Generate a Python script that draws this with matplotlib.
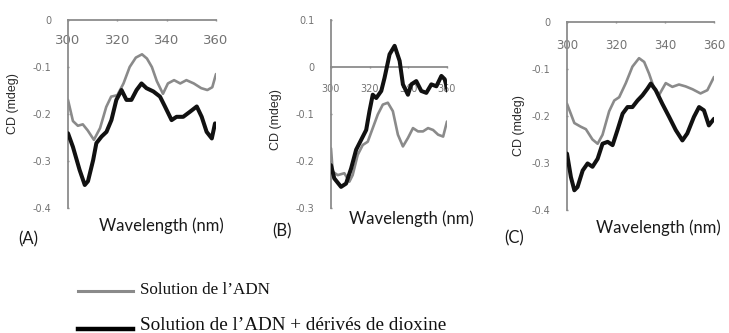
import matplotlib
matplotlib.use("Agg")
import matplotlib.pyplot as plt
from matplotlib.lines import Line2D

plt.rcParams["axes.unicode_minus"] = False

W, H = 729, 333

# ---- data (wavelength in nm, CD in mdeg) ----
wl_a_dna = [300, 302, 304, 306, 308, 310.5, 313, 315.5, 317.5, 320, 322.5, 325, 327.5,
            330, 332, 334, 336, 338.5, 340.5, 343, 345.5, 348, 351, 354, 356.5, 358.5, 360]
cd_a_dna = [-0.17, -0.215, -0.225, -0.222, -0.235, -0.255, -0.23, -0.185, -0.163, -0.16,
            -0.135, -0.1, -0.08, -0.073, -0.082, -0.1, -0.13, -0.157, -0.135, -0.128,
            -0.135, -0.128, -0.135, -0.145, -0.149, -0.143, -0.115]
wl_a_diox = [300, 302, 304.7, 306.8, 308.1, 310.2, 311.5, 313.6, 315.6, 317.6, 319.6,
             321.7, 323.7, 325.7, 327.8, 329.8, 331.8, 334.6, 337.3, 339.3, 342, 344,
             346.7, 349.5, 352.2, 354.2, 356.2, 358.3, 359.6]
cd_a_diox = [-0.241, -0.27, -0.319, -0.351, -0.343, -0.298, -0.262, -0.248, -0.238,
             -0.213, -0.17, -0.149, -0.17, -0.17, -0.149, -0.135, -0.145, -0.152, -0.163,
             -0.184, -0.213, -0.206, -0.206, -0.195, -0.184, -0.206, -0.238, -0.252, -0.22]

wl_b_dna = [300, 300.9, 303.5, 306.9, 309.5, 311.2, 313.8, 316.4, 319.0, 321.6, 324.2,
            326.8, 329.4, 332.0, 334.6, 337.2, 339.8, 342.4, 345.0, 347.6, 350.2, 352.8,
            355.4, 358.0, 360]
cd_b_dna = [-0.173, -0.223, -0.23, -0.226, -0.244, -0.23, -0.187, -0.166, -0.159, -0.13,
            -0.101, -0.08, -0.076, -0.094, -0.144, -0.169, -0.151, -0.13, -0.137, -0.137,
            -0.13, -0.134, -0.144, -0.148, -0.116]
wl_b_diox = [300, 301.7, 305.2, 307.8, 310.4, 313.0, 315.6, 318.2, 319.9, 321.6, 323.4,
             326.0, 327.7, 330.3, 332.9, 335.5, 337.2, 339.8, 341.5, 344.1, 346.7, 349.3,
             351.9, 354.5, 357.1, 358.8, 360.4]
cd_b_diox = [-0.209, -0.237, -0.255, -0.248, -0.216, -0.176, -0.155, -0.134, -0.094,
             -0.059, -0.066, -0.051, -0.023, 0.027, 0.045, 0.013, -0.037, -0.059, -0.037,
             -0.03, -0.051, -0.055, -0.037, -0.041, -0.019, -0.026, -0.051]

wl_c_dna = [300, 303, 305.7, 307.7, 310.4, 312.5, 314.5, 317.2, 319.3, 321.3, 324, 326.7,
            329.4, 331.5, 333.5, 335.5, 337.6, 340.3, 343, 345.7, 348.4, 351.2, 354.5,
            357.3, 360]
cd_c_dna = [-0.174, -0.215, -0.223, -0.228, -0.25, -0.259, -0.24, -0.19, -0.167, -0.16,
            -0.13, -0.095, -0.077, -0.085, -0.11, -0.14, -0.155, -0.13, -0.138, -0.133,
            -0.137, -0.143, -0.152, -0.145, -0.117]
wl_c_diox = [300, 301.6, 303, 304.3, 306.4, 308.4, 310.4, 312.5, 314.5, 316.6, 318.6,
             320.6, 322.7, 324.7, 326.7, 328.8, 330.8, 332.8, 334.2, 336.2, 338.9, 341.7,
             344.4, 347.1, 349.1, 351.8, 353.9, 355.9, 357.9, 360]
cd_c_diox = [-0.28, -0.33, -0.358, -0.351, -0.316, -0.301, -0.308, -0.291, -0.259, -0.255,
             -0.262, -0.23, -0.195, -0.181, -0.181, -0.167, -0.156, -0.142, -0.131, -0.145,
             -0.174, -0.202, -0.23, -0.252, -0.237, -0.202, -0.181, -0.188, -0.22, -0.206]

x_ticks = [300, 320, 340, 360]
y_ticks_ac = [0, -0.1, -0.2, -0.3, -0.4]
y_ticks_b = [0.1, 0, -0.1, -0.2, -0.3]

GRAY = "#8a8a8a"
BLACK = "#111111"
AXC = "#8c8c8c"
TICKC = "#737373"

fig = plt.figure(figsize=(W / 100, H / 100), dpi=100)


def make_axes(x0, x1, ytop, ybot, ylim, yticks, xfs, xpad):
    ax = fig.add_axes([x0 / W, 1 - ybot / H, (x1 - x0) / W, (ybot - ytop) / H])
    ax.set_xlim(300, 360)
    ax.set_ylim(*ylim)
    for s in ("right", "top"):
        ax.spines[s].set_visible(False)
    ax.spines["bottom"].set_position(("data", 0))
    for s in ("left", "bottom"):
        ax.spines[s].set_color(AXC)
        ax.spines[s].set_linewidth(1.3)
    ax.set_xticks(x_ticks)
    ax.set_yticks(yticks)
    ax.set_yticklabels(["0" if v == 0 else f"{v:.1f}" for v in yticks])
    ax.tick_params(axis="x", length=2, width=1, color=AXC, direction="inout",
                   labelsize=xfs, labelcolor=TICKC, pad=xpad)
    ax.tick_params(axis="y", length=2, width=1, color=AXC, direction="inout",
                   labelsize=7, labelcolor=TICKC, pad=11)
    ax.patch.set_alpha(0)
    return ax


def draw(ax, wl1, cd1, wl2, cd2):
    ax.plot(wl1, cd1, color=GRAY, lw=1.9, zorder=3, solid_joinstyle="round",
            solid_capstyle="round")
    ax.plot(wl2, cd2, color=BLACK, lw=2.9, zorder=4, solid_joinstyle="round",
            solid_capstyle="round")


ax_a = make_axes(68, 216, 20, 208, (-0.4, 0), y_ticks_ac, 9.5, 9)
draw(ax_a, wl_a_dna, cd_a_dna, wl_a_diox, cd_a_diox)

ax_b = make_axes(331, 447, 20, 208, (-0.3, 0.1), y_ticks_b, 7, 11)
draw(ax_b, wl_b_dna, cd_b_dna, wl_b_diox, cd_b_diox)

ax_c = make_axes(567, 714, 22, 210, (-0.4, 0), y_ticks_ac, 8.5, 11)
draw(ax_c, wl_c_dna, cd_c_dna, wl_c_diox, cd_c_diox)

# axis titles and panel letters
ylab = dict(rotation=90, ha="center", va="center", fontsize=9, color="#2a2a2a",
            family="Liberation Sans")
fig.text(13 / W, 1 - 104 / H, "CD (mdeg)", **ylab)
fig.text(276 / W, 1 - 120 / H, "CD (mdeg)", **ylab)
fig.text(519 / W, 1 - 126 / H, "CD (mdeg)", **ylab)

xlab = dict(ha="center", va="center", fontsize=12, color="#1a1a1a", family="Lato")
fig.text(161 / W, 1 - 226 / H, "Wavelength (nm)", **xlab)
fig.text(411 / W, 1 - 219 / H, "Wavelength (nm)", **xlab)
fig.text(658 / W, 1 - 228 / H, "Wavelength (nm)", **xlab)

let = dict(ha="center", va="center", fontsize=12, color="#1a1a1a", family="Lato")
fig.text(28 / W, 1 - 239 / H, "(A)", **let)
fig.text(282 / W, 1 - 231 / H, "(B)", **let)
fig.text(514 / W, 1 - 238 / H, "(C)", **let)

# legend
fig.add_artist(Line2D([78 / W, 133 / W], [1 - 291 / H, 1 - 291 / H],
                      color=GRAY, lw=2.2, transform=fig.transFigure))
fig.add_artist(Line2D([78 / W, 133 / W], [1 - 329 / H, 1 - 329 / H],
                      color="black", lw=3.2, transform=fig.transFigure))
fig.text(140 / W, 1 - 290 / H, "Solution de l\u2019ADN", ha="left", va="center",
         fontsize=12.3, family="Liberation Serif", color="#111")
fig.text(140 / W, 1 - 326 / H, "Solution de l\u2019ADN + dérivés de dioxine", ha="left",
         va="center", fontsize=13.8, family="Liberation Serif", color="#111")

fig.savefig("out.png", dpi=100)
